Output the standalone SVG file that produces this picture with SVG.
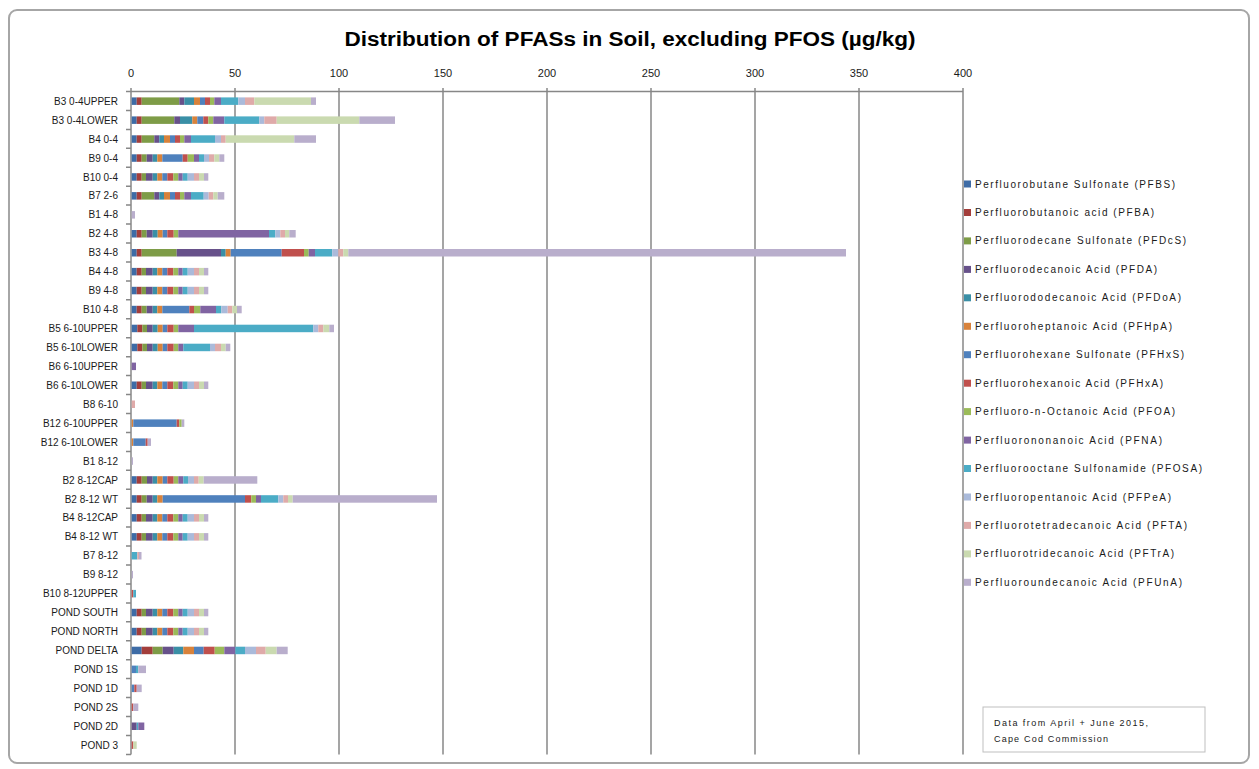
<svg xmlns="http://www.w3.org/2000/svg" width="1259" height="769" viewBox="0 0 1259 769">
<style>
.c1{fill:#3E6CA6}.c2{fill:#A33E3B}.c3{fill:#7E9C47}.c4{fill:#67518A}.c5{fill:#3A8FA6}
.c6{fill:#D8823B}.c7{fill:#4F81BD}.c8{fill:#C0504D}.c9{fill:#9BBB59}.c10{fill:#8064A2}
.c11{fill:#4BACC6}.c12{fill:#AABADA}.c13{fill:#DFAAA9}.c14{fill:#CADAB0}.c15{fill:#B9AECC}
.bar rect{height:7.5px}
.lbl{font-family:"Liberation Sans",Arial,sans-serif;font-size:10px;fill:#1a1a1a;text-anchor:end}
.tick{font-family:"Liberation Sans",Arial,sans-serif;font-size:11px;fill:#1a1a1a;text-anchor:middle}
.leg{font-family:"Liberation Sans",Arial,sans-serif;font-size:10px;fill:#1a1a1a}
.grid{stroke:#878787;stroke-width:1.5;fill:none}
.note{font-family:"Liberation Sans",Arial,sans-serif;font-size:9px;fill:#1a1a1a}
</style>
<defs>
<g id="std">
<rect class="c1" x="131.7" width="5" height="7.5"/><rect class="c2" x="136.7" width="5" height="7.5"/><rect class="c3" x="141.7" width="4.3" height="7.5"/><rect class="c4" x="146" width="6.7" height="7.5"/><rect class="c5" x="152.7" width="4.6" height="7.5"/><rect class="c6" x="157.3" width="5" height="7.5"/><rect class="c7" x="162.3" width="5" height="7.5"/><rect class="c8" x="167.3" width="6" height="7.5"/><rect class="c9" x="173.3" width="5" height="7.5"/><rect class="c10" x="178.3" width="4.4" height="7.5"/><rect class="c11" x="182.7" width="5" height="7.5"/><rect class="c12" x="187.7" width="6.3" height="7.5"/><rect class="c13" x="194" width="5" height="7.5"/><rect class="c14" x="199" width="5" height="7.5"/><rect class="c15" x="204" width="4.3" height="7.5"/>
</g>
</defs>
<rect x="0" y="0" width="1259" height="769" fill="#ffffff"/>
<rect x="9" y="10" width="1240" height="753" rx="8" fill="#ffffff" stroke="#a6a6a6" stroke-width="2"/>
<text x="630" y="46" text-anchor="middle" font-family="'Liberation Sans',Arial,sans-serif" font-weight="bold" font-size="20" fill="#000" textLength="571" lengthAdjust="spacingAndGlyphs">Distribution of PFASs in Soil, excluding PFOS (µg/kg)</text>

<g id="axes">
<g class="grid">
<line x1="235" y1="88" x2="235" y2="754.5"/><line x1="339" y1="88" x2="339" y2="754.5"/><line x1="443" y1="88" x2="443" y2="754.5"/><line x1="547" y1="88" x2="547" y2="754.5"/><line x1="651" y1="88" x2="651" y2="754.5"/><line x1="755" y1="88" x2="755" y2="754.5"/><line x1="859" y1="88" x2="859" y2="754.5"/><line x1="963" y1="88" x2="963" y2="754.5"/>
<line x1="131" y1="88" x2="131" y2="754.5"/>
<line x1="131" y1="91.5" x2="963" y2="91.5"/>
<path d="M126 91.5H131M126 110.4H131M126 129.4H131M126 148.3H131M126 167.3H131M126 186.2H131M126 205.1H131M126 224.1H131M126 243H131M126 262H131M126 280.9H131M126 299.8H131M126 318.8H131M126 337.7H131M126 356.7H131M126 375.6H131M126 394.5H131M126 413.5H131M126 432.4H131M126 451.4H131M126 470.3H131M126 489.2H131M126 508.2H131M126 527.1H131M126 546.1H131M126 565H131M126 583.9H131M126 602.9H131M126 621.8H131M126 640.8H131M126 659.7H131M126 678.6H131M126 697.6H131M126 716.5H131M126 735.5H131M126 754.4H131"/>
</g>
<text class="tick" x="131" y="77">0</text><text class="tick" x="235" y="77">50</text><text class="tick" x="339" y="77">100</text><text class="tick" x="443" y="77">150</text><text class="tick" x="547" y="77">200</text><text class="tick" x="651" y="77">250</text><text class="tick" x="755" y="77">300</text><text class="tick" x="859" y="77">350</text><text class="tick" x="963" y="77">400</text>
</g>

<g id="bars">
<g id="r0" class="bar" transform="translate(0,97.4)"><text class="lbl" x="118" y="7.3">B3 0-4UPPER</text>
<rect class="c1" x="131.7" width="5" height="7.5"/><rect class="c2" x="136.7" width="5" height="7.5"/><rect class="c3" x="141.7" width="37.6" height="7.5"/><rect class="c4" x="179.3" width="5" height="7.5"/><rect class="c5" x="184.3" width="9.7" height="7.5"/><rect class="c6" x="194" width="6" height="7.5"/><rect class="c7" x="200" width="5" height="7.5"/><rect class="c8" x="205" width="5" height="7.5"/><rect class="c9" x="210" width="4.3" height="7.5"/><rect class="c10" x="214.3" width="6.7" height="7.5"/><rect class="c11" x="221" width="17.3" height="7.5"/><rect class="c12" x="238.3" width="6.7" height="7.5"/><rect class="c13" x="245" width="9.3" height="7.5"/><rect class="c14" x="254.3" width="56.7" height="7.5"/><rect class="c15" x="311" width="5" height="7.5"/></g>
<g id="r1" class="bar" transform="translate(0,116.4)"><text class="lbl" x="118" y="7.3">B3 0-4LOWER</text>
<rect class="c1" x="131.7" width="5" height="7.5"/><rect class="c2" x="136.7" width="5" height="7.5"/><rect class="c3" x="141.7" width="32.6" height="7.5"/><rect class="c4" x="174.3" width="5.7" height="7.5"/><rect class="c5" x="180" width="12.3" height="7.5"/><rect class="c6" x="192.3" width="5" height="7.5"/><rect class="c7" x="197.3" width="6" height="7.5"/><rect class="c8" x="203.3" width="5" height="7.5"/><rect class="c9" x="208.3" width="5" height="7.5"/><rect class="c10" x="213.3" width="11" height="7.5"/><rect class="c11" x="224.3" width="35" height="7.5"/><rect class="c12" x="259.3" width="5" height="7.5"/><rect class="c13" x="264.3" width="12.4" height="7.5"/><rect class="c14" x="276.7" width="82.6" height="7.5"/><rect class="c15" x="359.3" width="35.7" height="7.5"/></g>
<g id="r2" class="bar" transform="translate(0,135.3)"><text class="lbl" x="118" y="7.3">B4 0-4</text>
<rect class="c1" x="131.7" width="5" height="7.5"/><rect class="c2" x="136.7" width="5" height="7.5"/><rect class="c3" x="141.7" width="12.6" height="7.5"/><rect class="c4" x="154.3" width="5" height="7.5"/><rect class="c5" x="159.3" width="4.7" height="7.5"/><rect class="c6" x="164" width="6" height="7.5"/><rect class="c7" x="170" width="5" height="7.5"/><rect class="c8" x="175" width="5" height="7.5"/><rect class="c9" x="180" width="4.3" height="7.5"/><rect class="c10" x="184.3" width="6.7" height="7.5"/><rect class="c11" x="191" width="24" height="7.5"/><rect class="c12" x="215" width="6" height="7.5"/><rect class="c13" x="221" width="4.7" height="7.5"/><rect class="c14" x="225.7" width="68.6" height="7.5"/><rect class="c15" x="294.3" width="21.7" height="7.5"/></g>
<g id="r3" class="bar" transform="translate(0,154.3)"><text class="lbl" x="118" y="7.3">B9 0-4</text>
<rect class="c1" x="131.7" width="5" height="7.5"/><rect class="c2" x="136.7" width="5" height="7.5"/><rect class="c3" x="141.7" width="5" height="7.5"/><rect class="c4" x="146.7" width="6" height="7.5"/><rect class="c5" x="152.7" width="4.6" height="7.5"/><rect class="c6" x="157.3" width="5" height="7.5"/><rect class="c7" x="162.3" width="20.4" height="7.5"/><rect class="c8" x="182.7" width="5" height="7.5"/><rect class="c9" x="187.7" width="6.3" height="7.5"/><rect class="c10" x="194" width="5" height="7.5"/><rect class="c11" x="199" width="5" height="7.5"/><rect class="c12" x="204" width="5" height="7.5"/><rect class="c13" x="209" width="5.3" height="7.5"/><rect class="c14" x="214.3" width="5" height="7.5"/><rect class="c15" x="219.3" width="5" height="7.5"/></g>
<g id="r4" class="bar" transform="translate(0,173.2)"><text class="lbl" x="118" y="7.3">B10 0-4</text><use href="#std"/></g>
<g id="r5" class="bar" transform="translate(0,192.1)"><text class="lbl" x="118" y="7.3">B7 2-6</text>
<rect class="c1" x="131.7" width="5" height="7.5"/><rect class="c2" x="136.7" width="5" height="7.5"/><rect class="c3" x="141.7" width="12.6" height="7.5"/><rect class="c4" x="154.3" width="5" height="7.5"/><rect class="c5" x="159.3" width="4.7" height="7.5"/><rect class="c6" x="164" width="6" height="7.5"/><rect class="c7" x="170" width="5" height="7.5"/><rect class="c8" x="175" width="5" height="7.5"/><rect class="c9" x="180" width="4.3" height="7.5"/><rect class="c10" x="184.3" width="6.7" height="7.5"/><rect class="c11" x="191" width="12.7" height="7.5"/><rect class="c12" x="203.7" width="5" height="7.5"/><rect class="c13" x="208.7" width="4.6" height="7.5"/><rect class="c14" x="213.3" width="4.4" height="7.5"/><rect class="c15" x="217.7" width="6.6" height="7.5"/></g>
<g id="r6" class="bar" transform="translate(0,211.1)"><text class="lbl" x="118" y="7.3">B1 4-8</text>
<rect class="c15" x="131.7" width="3.3" height="7.5"/></g>
<g id="r7" class="bar" transform="translate(0,230)"><text class="lbl" x="118" y="7.3">B2 4-8</text>
<rect class="c1" x="131.7" width="5" height="7.5"/><rect class="c2" x="136.7" width="5" height="7.5"/><rect class="c3" x="141.7" width="5" height="7.5"/><rect class="c4" x="146.7" width="6" height="7.5"/><rect class="c5" x="152.7" width="5" height="7.5"/><rect class="c6" x="157.7" width="5" height="7.5"/><rect class="c7" x="162.7" width="4.6" height="7.5"/><rect class="c8" x="167.3" width="6.4" height="7.5"/><rect class="c9" x="173.7" width="4.6" height="7.5"/><rect class="c10" x="178.3" width="90.7" height="7.5"/><rect class="c11" x="269" width="6.3" height="7.5"/><rect class="c12" x="275.3" width="5" height="7.5"/><rect class="c13" x="280.3" width="4.7" height="7.5"/><rect class="c14" x="285" width="4.3" height="7.5"/><rect class="c15" x="289.3" width="6.4" height="7.5"/></g>
<g id="r8" class="bar" transform="translate(0,249)"><text class="lbl" x="118" y="7.3">B3 4-8</text>
<rect class="c1" x="131.7" width="5" height="7.5"/><rect class="c2" x="136.7" width="5" height="7.5"/><rect class="c3" x="141.7" width="35" height="7.5"/><rect class="c4" x="176.7" width="44.3" height="7.5"/><rect class="c5" x="221" width="4.7" height="7.5"/><rect class="c6" x="225.7" width="5" height="7.5"/><rect class="c7" x="230.7" width="51" height="7.5"/><rect class="c8" x="281.7" width="22.3" height="7.5"/><rect class="c9" x="304" width="4.7" height="7.5"/><rect class="c10" x="308.7" width="6.3" height="7.5"/><rect class="c11" x="315" width="17.3" height="7.5"/><rect class="c12" x="332.3" width="6" height="7.5"/><rect class="c13" x="338.3" width="5" height="7.5"/><rect class="c14" x="343.3" width="5" height="7.5"/><rect class="c15" x="348.3" width="497.7" height="7.5"/></g>
<g id="r9" class="bar" transform="translate(0,267.9)"><text class="lbl" x="118" y="7.3">B4 4-8</text><use href="#std"/></g>
<g id="r10" class="bar" transform="translate(0,286.8)"><text class="lbl" x="118" y="7.3">B9 4-8</text><use href="#std"/></g>
<g id="r11" class="bar" transform="translate(0,305.8)"><text class="lbl" x="118" y="7.3">B10 4-8</text>
<rect class="c1" x="131.7" width="5" height="7.5"/><rect class="c2" x="136.7" width="5" height="7.5"/><rect class="c3" x="141.7" width="5" height="7.5"/><rect class="c4" x="146.7" width="6" height="7.5"/><rect class="c5" x="152.7" width="4.6" height="7.5"/><rect class="c6" x="157.3" width="5" height="7.5"/><rect class="c7" x="162.3" width="27" height="7.5"/><rect class="c8" x="189.3" width="4.7" height="7.5"/><rect class="c9" x="194" width="6.3" height="7.5"/><rect class="c10" x="200.3" width="15.7" height="7.5"/><rect class="c11" x="216" width="5.3" height="7.5"/><rect class="c12" x="221.3" width="6.4" height="7.5"/><rect class="c13" x="227.7" width="4.6" height="7.5"/><rect class="c14" x="232.3" width="4.7" height="7.5"/><rect class="c15" x="237" width="4.7" height="7.5"/></g>
<g id="r12" class="bar" transform="translate(0,324.7)"><text class="lbl" x="118" y="7.3">B5 6-10UPPER</text>
<rect class="c1" x="131.7" width="5.6" height="7.5"/><rect class="c2" x="137.3" width="5" height="7.5"/><rect class="c3" x="142.3" width="4.7" height="7.5"/><rect class="c4" x="147" width="5.7" height="7.5"/><rect class="c5" x="152.7" width="5" height="7.5"/><rect class="c6" x="157.7" width="5" height="7.5"/><rect class="c7" x="162.7" width="4.6" height="7.5"/><rect class="c8" x="167.3" width="6.4" height="7.5"/><rect class="c9" x="173.7" width="4.6" height="7.5"/><rect class="c10" x="178.3" width="15.7" height="7.5"/><rect class="c11" x="194" width="119.3" height="7.5"/><rect class="c12" x="313.3" width="5" height="7.5"/><rect class="c13" x="318.3" width="5" height="7.5"/><rect class="c14" x="323.3" width="6" height="7.5"/><rect class="c15" x="329.3" width="4.7" height="7.5"/></g>
<g id="r13" class="bar" transform="translate(0,343.7)"><text class="lbl" x="118" y="7.3">B5 6-10LOWER</text>
<rect class="c1" x="131.7" width="5.6" height="7.5"/><rect class="c2" x="137.3" width="5" height="7.5"/><rect class="c3" x="142.3" width="4.7" height="7.5"/><rect class="c4" x="147" width="5.7" height="7.5"/><rect class="c5" x="152.7" width="5" height="7.5"/><rect class="c6" x="157.7" width="5" height="7.5"/><rect class="c7" x="162.7" width="4.6" height="7.5"/><rect class="c8" x="167.3" width="6.4" height="7.5"/><rect class="c9" x="173.7" width="4.6" height="7.5"/><rect class="c10" x="178.3" width="5" height="7.5"/><rect class="c11" x="183.3" width="26.7" height="7.5"/><rect class="c12" x="210" width="5" height="7.5"/><rect class="c13" x="215" width="6" height="7.5"/><rect class="c14" x="221" width="4.7" height="7.5"/><rect class="c15" x="225.7" width="4.6" height="7.5"/></g>
<g id="r14" class="bar" transform="translate(0,362.6)"><text class="lbl" x="118" y="7.3">B6 6-10UPPER</text>
<rect class="c10" x="131.7" width="4.3" height="7.5"/></g>
<g id="r15" class="bar" transform="translate(0,381.5)"><text class="lbl" x="118" y="7.3">B6 6-10LOWER</text><use href="#std"/></g>
<g id="r16" class="bar" transform="translate(0,400.5)"><text class="lbl" x="118" y="7.3">B8 6-10</text>
<rect class="c13" x="131.7" width="3.3" height="7.5"/></g>
<g id="r17" class="bar" transform="translate(0,419.4)"><text class="lbl" x="118" y="7.3">B12 6-10UPPER</text>
<rect class="c6" x="131.7" width="1.6" height="7.5"/><rect class="c7" x="133.3" width="43.4" height="7.5"/><rect class="c8" x="176.7" width="2.6" height="7.5"/><rect class="c9" x="179.3" width="2.4" height="7.5"/><rect class="c15" x="181.7" width="2.6" height="7.5"/></g>
<g id="r18" class="bar" transform="translate(0,438.4)"><text class="lbl" x="118" y="7.3">B12 6-10LOWER</text>
<rect class="c6" x="131.7" width="1.6" height="7.5"/><rect class="c7" x="133.3" width="12.4" height="7.5"/><rect class="c8" x="145.7" width="2" height="7.5"/><rect class="c15" x="147.7" width="3.3" height="7.5"/></g>
<g id="r19" class="bar" transform="translate(0,457.3)"><text class="lbl" x="118" y="7.3">B1 8-12</text>
<rect class="c15" x="131.7" width="1.3" height="7.5"/></g>
<g id="r20" class="bar" transform="translate(0,476.2)"><text class="lbl" x="118" y="7.3">B2 8-12CAP</text>
<rect class="c1" x="131.7" width="5" height="7.5"/><rect class="c2" x="136.7" width="5" height="7.5"/><rect class="c3" x="141.7" width="5.3" height="7.5"/><rect class="c4" x="147" width="5.7" height="7.5"/><rect class="c5" x="152.7" width="4.6" height="7.5"/><rect class="c6" x="157.3" width="5.4" height="7.5"/><rect class="c7" x="162.7" width="4.6" height="7.5"/><rect class="c8" x="167.3" width="6.4" height="7.5"/><rect class="c9" x="173.7" width="4.6" height="7.5"/><rect class="c10" x="178.3" width="5" height="7.5"/><rect class="c11" x="183.3" width="4.7" height="7.5"/><rect class="c12" x="188" width="6" height="7.5"/><rect class="c13" x="194" width="4.7" height="7.5"/><rect class="c14" x="198.7" width="5" height="7.5"/><rect class="c15" x="203.7" width="53.6" height="7.5"/></g>
<g id="r21" class="bar" transform="translate(0,495.2)"><text class="lbl" x="118" y="7.3">B2 8-12 WT</text>
<rect class="c1" x="131.7" width="5" height="7.5"/><rect class="c2" x="136.7" width="5" height="7.5"/><rect class="c3" x="141.7" width="5" height="7.5"/><rect class="c4" x="146.7" width="6" height="7.5"/><rect class="c5" x="152.7" width="4.6" height="7.5"/><rect class="c6" x="157.3" width="5.4" height="7.5"/><rect class="c7" x="162.7" width="82.3" height="7.5"/><rect class="c8" x="245" width="6.3" height="7.5"/><rect class="c9" x="251.3" width="4.7" height="7.5"/><rect class="c10" x="256" width="5" height="7.5"/><rect class="c11" x="261" width="17.3" height="7.5"/><rect class="c12" x="278.3" width="5" height="7.5"/><rect class="c13" x="283.3" width="4.7" height="7.5"/><rect class="c14" x="288" width="4.7" height="7.5"/><rect class="c15" x="292.7" width="144.3" height="7.5"/></g>
<g id="r22" class="bar" transform="translate(0,514.1)"><text class="lbl" x="118" y="7.3">B4 8-12CAP</text><use href="#std"/></g>
<g id="r23" class="bar" transform="translate(0,533.1)"><text class="lbl" x="118" y="7.3">B4 8-12 WT</text><use href="#std"/></g>
<g id="r24" class="bar" transform="translate(0,552)"><text class="lbl" x="118" y="7.3">B7 8-12</text>
<rect class="c11" x="131.7" width="5.6" height="7.5"/><rect class="c13" x="137.3" width="1.7" height="7.5"/><rect class="c15" x="139" width="2.5" height="7.5"/></g>
<g id="r25" class="bar" transform="translate(0,570.9)"><text class="lbl" x="118" y="7.3">B9 8-12</text>
<rect class="c15" x="131.7" width="1.3" height="7.5"/></g>
<g id="r26" class="bar" transform="translate(0,589.9)"><text class="lbl" x="118" y="7.3">B10 8-12UPPER</text>
<rect class="c8" x="131.7" width="1.6" height="7.5"/><rect class="c11" x="133.3" width="2.7" height="7.5"/></g>
<g id="r27" class="bar" transform="translate(0,608.8)"><text class="lbl" x="118" y="7.3">POND SOUTH</text><use href="#std"/></g>
<g id="r28" class="bar" transform="translate(0,627.8)"><text class="lbl" x="118" y="7.3">POND NORTH</text><use href="#std"/></g>
<g id="r29" class="bar" transform="translate(0,646.7)"><text class="lbl" x="118" y="7.3">POND DELTA</text>
<rect class="c1" x="131.7" width="10" height="7.5"/><rect class="c2" x="141.7" width="11" height="7.5"/><rect class="c3" x="152.7" width="10" height="7.5"/><rect class="c4" x="162.7" width="11" height="7.5"/><rect class="c5" x="173.7" width="9.6" height="7.5"/><rect class="c6" x="183.3" width="10.7" height="7.5"/><rect class="c7" x="194" width="9.7" height="7.5"/><rect class="c8" x="203.7" width="11" height="7.5"/><rect class="c9" x="214.7" width="9.6" height="7.5"/><rect class="c10" x="224.3" width="11" height="7.5"/><rect class="c11" x="235.3" width="9.7" height="7.5"/><rect class="c12" x="245" width="11" height="7.5"/><rect class="c13" x="256" width="9.7" height="7.5"/><rect class="c14" x="265.7" width="11" height="7.5"/><rect class="c15" x="276.7" width="11" height="7.5"/></g>
<g id="r30" class="bar" transform="translate(0,665.6)"><text class="lbl" x="118" y="7.3">POND 1S</text>
<rect class="c7" x="131.7" width="4.3" height="7.5"/><rect class="c11" x="136" width="2.3" height="7.5"/><rect class="c15" x="138.3" width="7.7" height="7.5"/></g>
<g id="r31" class="bar" transform="translate(0,684.6)"><text class="lbl" x="118" y="7.3">POND 1D</text>
<rect class="c7" x="131.7" width="2.6" height="7.5"/><rect class="c8" x="134.3" width="2.4" height="7.5"/><rect class="c15" x="136.7" width="5" height="7.5"/></g>
<g id="r32" class="bar" transform="translate(0,703.5)"><text class="lbl" x="118" y="7.3">POND 2S</text>
<rect class="c8" x="131.7" width="1.6" height="7.5"/><rect class="c15" x="133.3" width="5" height="7.5"/></g>
<g id="r33" class="bar" transform="translate(0,722.5)"><text class="lbl" x="118" y="7.3">POND 2D</text>
<rect class="c4" x="131.7" width="5" height="7.5"/><rect class="c11" x="136.7" width="1.6" height="7.5"/><rect class="c10" x="138.3" width="6" height="7.5"/></g>
<g id="r34" class="bar" transform="translate(0,741.4)"><text class="lbl" x="118" y="7.3">POND 3</text>
<rect class="c8" x="131.7" width="1.6" height="7.5"/><rect class="c14" x="133.3" width="3.4" height="7.5"/></g>
</g>

<g id="legend">
<rect class="c1" x="964" y="180.5" width="7" height="7"/><text class="leg" x="975" y="187.5" textLength="200" lengthAdjust="spacing">Perfluorobutane Sulfonate (PFBS)</text>
<rect class="c2" x="964" y="209" width="7" height="7"/><text class="leg" x="975" y="216" textLength="179" lengthAdjust="spacing">Perfluorobutanoic acid (PFBA)</text>
<rect class="c3" x="964" y="237.4" width="7" height="7"/><text class="leg" x="975" y="244.4" textLength="211" lengthAdjust="spacing">Perfluorodecane Sulfonate (PFDcS)</text>
<rect class="c4" x="964" y="265.9" width="7" height="7"/><text class="leg" x="975" y="272.9" textLength="182" lengthAdjust="spacing">Perfluorodecanoic Acid (PFDA)</text>
<rect class="c5" x="964" y="294.3" width="7" height="7"/><text class="leg" x="975" y="301.3" textLength="206" lengthAdjust="spacing">Perfluorododecanoic Acid (PFDoA)</text>
<rect class="c6" x="964" y="322.8" width="7" height="7"/><text class="leg" x="975" y="329.8" textLength="197" lengthAdjust="spacing">Perfluoroheptanoic Acid (PFHpA)</text>
<rect class="c7" x="964" y="351.2" width="7" height="7"/><text class="leg" x="975" y="358.2" textLength="209" lengthAdjust="spacing">Perfluorohexane Sulfonate (PFHxS)</text>
<rect class="c8" x="964" y="379.7" width="7" height="7"/><text class="leg" x="975" y="386.7" textLength="188" lengthAdjust="spacing">Perfluorohexanoic Acid (PFHxA)</text>
<rect class="c9" x="964" y="408.1" width="7" height="7"/><text class="leg" x="975" y="415.1" textLength="200" lengthAdjust="spacing">Perfluoro-n-Octanoic Acid (PFOA)</text>
<rect class="c10" x="964" y="436.6" width="7" height="7"/><text class="leg" x="975" y="443.6" textLength="187" lengthAdjust="spacing">Perfluorononanoic Acid (PFNA)</text>
<rect class="c11" x="964" y="465" width="7" height="7"/><text class="leg" x="975" y="472" textLength="227" lengthAdjust="spacing">Perfluorooctane Sulfonamide (PFOSA)</text>
<rect class="c12" x="964" y="493.5" width="7" height="7"/><text class="leg" x="975" y="500.5" textLength="196" lengthAdjust="spacing">Perfluoropentanoic Acid (PFPeA)</text>
<rect class="c13" x="964" y="521.9" width="7" height="7"/><text class="leg" x="975" y="528.9" textLength="212" lengthAdjust="spacing">Perfluorotetradecanoic Acid (PFTA)</text>
<rect class="c14" x="964" y="550.4" width="7" height="7"/><text class="leg" x="975" y="557.4" textLength="199" lengthAdjust="spacing">Perfluorotridecanoic Acid (PFTrA)</text>
<rect class="c15" x="964" y="578.8" width="7" height="7"/><text class="leg" x="975" y="585.8" textLength="207" lengthAdjust="spacing">Perfluoroundecanoic Acid (PFUnA)</text>
</g>

<g id="note">
<rect x="983" y="707" width="222" height="45" fill="#ffffff" stroke="#bfbfbf" stroke-width="1"/>
<text class="note" x="994" y="726" textLength="154" lengthAdjust="spacing">Data from  April + June 2015,</text>
<text class="note" x="994" y="742" textLength="114" lengthAdjust="spacing">Cape Cod Commission</text>
</g>
</svg>
